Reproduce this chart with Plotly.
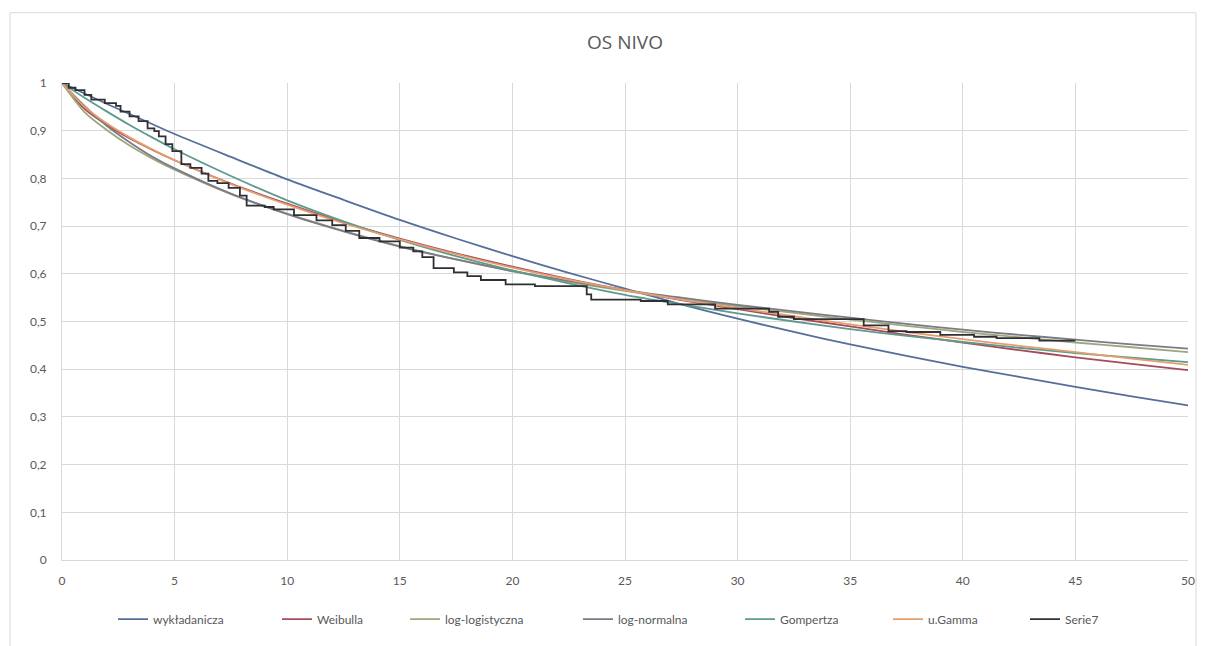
import plotly.graph_objects as go

# ---- data ----
t_model = [0, 1, 2, 3, 4, 5, 7.5, 10, 12.5, 15, 17.5, 20, 22.5, 25, 27.5,
           30, 32.5, 35, 37.5, 40, 42.5, 45, 47.5, 50]

wykladanicza = [1.0, 0.978, 0.956, 0.935, 0.914, 0.893, 0.845, 0.798, 0.755, 0.713,
                0.674, 0.637, 0.602, 0.569, 0.536, 0.506, 0.478, 0.452, 0.428,
                0.405, 0.384, 0.363, 0.343, 0.324]
weibulla = [1.0, 0.946, 0.912, 0.884, 0.860, 0.838, 0.789, 0.747, 0.708, 0.674,
            0.643, 0.615, 0.589, 0.566, 0.545, 0.526, 0.507, 0.490, 0.472,
            0.456, 0.440, 0.425, 0.411, 0.398]
log_logistyczna = [1.0, 0.939, 0.901, 0.869, 0.842, 0.818, 0.767, 0.726, 0.690, 0.658,
                   0.630, 0.605, 0.583, 0.564, 0.547, 0.532, 0.518, 0.504, 0.491,
                   0.478, 0.467, 0.456, 0.446, 0.436]
log_normalna = [1.0, 0.952, 0.910, 0.876, 0.846, 0.821, 0.768, 0.725, 0.689, 0.657,
                0.630, 0.606, 0.585, 0.566, 0.550, 0.535, 0.521, 0.508, 0.495,
                0.483, 0.472, 0.462, 0.452, 0.443]
gompertza = [1.0, 0.969, 0.940, 0.912, 0.886, 0.861, 0.805, 0.754, 0.710, 0.671,
             0.637, 0.607, 0.580, 0.556, 0.536, 0.517, 0.500, 0.484, 0.470,
             0.457, 0.445, 0.434, 0.424, 0.415]
u_gamma = [1.0, 0.950, 0.915, 0.886, 0.861, 0.838, 0.788, 0.745, 0.706, 0.672,
           0.641, 0.613, 0.588, 0.566, 0.546, 0.528, 0.511, 0.494, 0.478,
           0.463, 0.449, 0.436, 0.422, 0.409]

t_km = [0, 0.3, 0.6, 1.0, 1.3, 1.9, 2.4, 2.6, 3.0, 3.4, 3.8, 4.1, 4.3, 4.6, 4.9,
        5.3, 5.7, 6.2, 6.5, 6.9, 7.4, 7.9, 8.2, 9.0, 9.4, 10.3, 11.3, 12.0, 12.6,
        13.2, 14.1, 15.0, 15.6, 16.0, 16.5, 17.4, 18.0, 18.6, 19.7, 21.0, 23.3,
        23.5, 25.7, 26.9, 29.0, 31.4, 31.8, 32.5, 35.6, 36.7, 37.5, 39.0, 40.5,
        41.5, 43.4, 45.0]
serie7 = [1.0, 0.99, 0.985, 0.975, 0.965, 0.958, 0.952, 0.94, 0.93, 0.92, 0.905,
          0.899, 0.888, 0.872, 0.857, 0.83, 0.822, 0.81, 0.795, 0.79, 0.78, 0.764,
          0.743, 0.74, 0.735, 0.723, 0.712, 0.702, 0.69, 0.675, 0.668, 0.655,
          0.647, 0.635, 0.612, 0.603, 0.595, 0.587, 0.578, 0.574, 0.557, 0.546,
          0.543, 0.536, 0.527, 0.52, 0.51, 0.505, 0.492, 0.48, 0.478, 0.472,
          0.468, 0.465, 0.46, 0.46]

names = ["wykładanicza", "Weibulla", "log-logistyczna", "log-normalna",
         "Gompertza", "u.Gamma", "Serie7"]
colors = ["#566f9a", "#a44b5e", "#9aa97c", "#7c7a86", "#5e9a8e", "#e59e6c", "#2f2f35"]
xs = [t_model] * 6 + [t_km]
series = [wykladanicza, weibulla, log_logistyczna, log_normalna, gompertza, u_gamma, serie7]
shapes = ["spline"] * 6 + ["hv"]

# left pixel of each legend entry (layout only)
legend_px = [113, 277, 405, 578, 740, 888, 1025]

x_ticks = [0, 5, 10, 15, 20, 25, 30, 35, 40, 45, 50]
y_ticks = [0, 0.1, 0.2, 0.3, 0.4, 0.5, 0.6, 0.7, 0.8, 0.9, 1]

font_family = "Liberation Sans Narrow, Lato, Open Sans, sans-serif"
grid = "#d9d9d9"

fig = go.Figure()
legend_layouts = {}
for i, (n, c, xv, s, sh) in enumerate(zip(names, colors, xs, series, shapes)):
    key = "legend" if i == 0 else f"legend{i + 1}"
    line = dict(color=c, width=1.8, shape=sh)
    if sh == "spline":
        line["smoothing"] = 0.8
    fig.add_trace(go.Scatter(x=xv, y=s, mode="lines", name=n, line=line,
                             legend=key))
    legend_layouts[key] = dict(orientation="h", x=(legend_px[i] - 62) / 1126,
                               xanchor="left", y=-0.124, yanchor="middle",
                               font=dict(size=12, color="#595959"), itemwidth=30,
                               bgcolor="rgba(0,0,0,0)")

fig.update_layout(
    width=1206, height=646,
    margin=dict(l=62, r=18, t=83, b=81),
    paper_bgcolor="white", plot_bgcolor="white",
    separators=", ",
    font=dict(family=font_family, size=12, color="#595959"),
    title=dict(text="OS NIVO", x=0.5, xref="paper", xanchor="center",
               y=(646 - 42) / 646, yanchor="middle",
               font=dict(family="Open Sans, Lato, sans-serif", size=19, color="#595959")),
    showlegend=True,
    xaxis=dict(range=[0, 50], tickmode="array", tickvals=x_ticks,
               showgrid=True, gridcolor=grid, gridwidth=1,
               showline=True, linecolor=grid, linewidth=1,
               zeroline=False, ticks="", ticklabelstandoff=10),
    yaxis=dict(range=[0, 1], tickmode="array", tickvals=y_ticks,
               ticktext=["0", "0,1", "0,2", "0,3", "0,4", "0,5", "0,6", "0,7", "0,8", "0,9", "1"],
               showgrid=True, gridcolor=grid, gridwidth=1,
               showline=True, linecolor=grid, linewidth=1,
               zeroline=False, ticks="", ticklabelstandoff=12),
    **legend_layouts,
)

# outer chart frame (Excel chart border)
fig.add_shape(type="rect", xref="paper", yref="paper",
              x0=(10 - 62) / 1126, x1=(1196 - 62) / 1126,
              y0=(565 - 660) / 482, y1=(565 - 12) / 482,
              line=dict(color="#d9d9d9", width=1), fillcolor="rgba(0,0,0,0)", layer="below")

fig.write_html("out.html")
